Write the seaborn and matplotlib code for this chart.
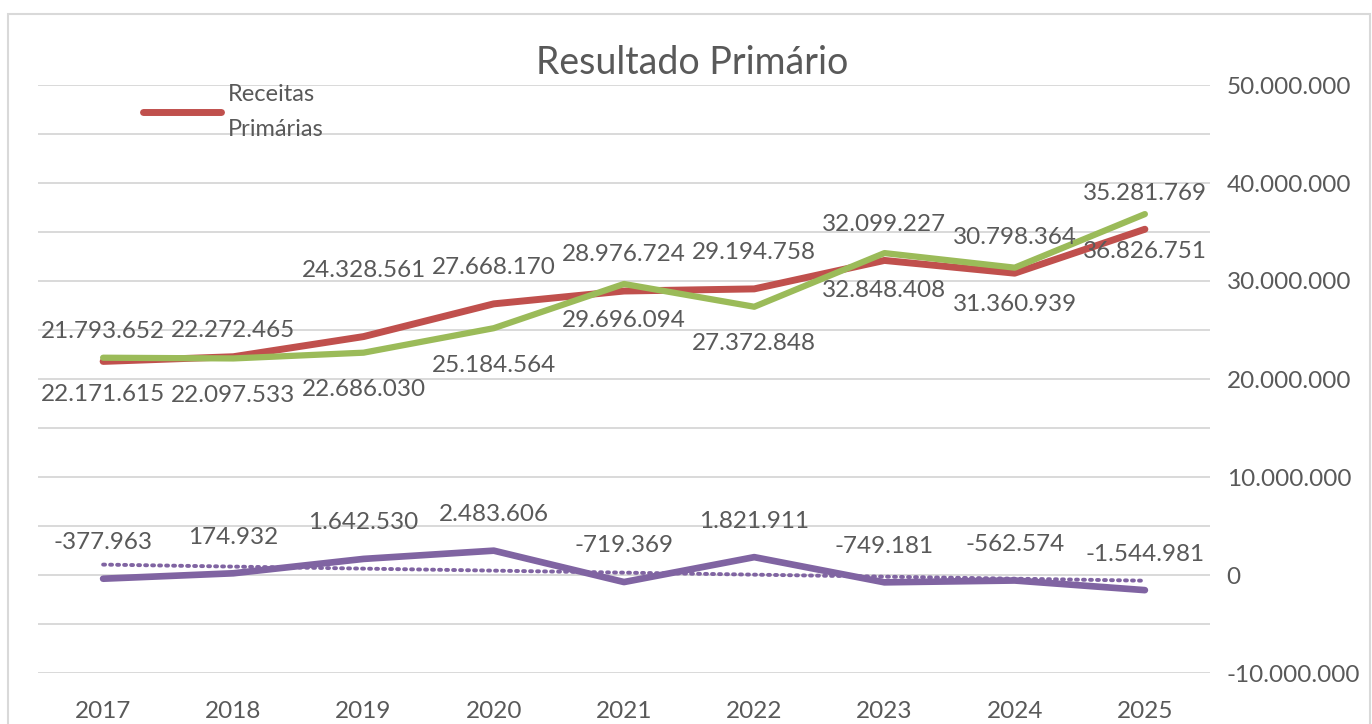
import numpy as np
import pandas as pd
import matplotlib.pyplot as plt
import seaborn as sns
from matplotlib.patches import Rectangle

# Dados
anos = ['2017', '2018', '2019', '2020', '2021', '2022', '2023', '2024', '2025']
receitas = [21793652, 22272465, 24328561, 27668170, 28976724, 29194758, 32099227, 30798364, 35281769]
despesas = [22171615, 22097533, 22686030, 25184564, 29696094, 27372848, 32848408, 31360939, 36826751]
resultado = [-377963, 174932, 1642530, 2483606, -719369, 1821911, -749181, -562574, -1544981]

df = pd.DataFrame({'pos': np.arange(len(anos)), 'ano': anos,
                   'receitas': receitas, 'despesas': despesas, 'resultado': resultado})

# tendência linear do resultado (como no Excel)
coef = np.polyfit(df['pos'], df['resultado'], 1)
df['tendencia'] = np.polyval(coef, df['pos'])

sns.set_theme(style='white')
plt.rcParams['font.family'] = ['Lato', 'DejaVu Sans']

cinza = '#595959'
vermelho = '#C0504D'
verde = '#9BBB59'
roxo = '#8064A2'

fig = plt.figure(figsize=(13.72, 7.24), dpi=100)
ax = fig.add_axes([38 / 1372, 51 / 724, (1210 - 38) / 1372, (673 - 85) / 724])

linha = dict(solid_capstyle='round', solid_joinstyle='round')
sns.lineplot(data=df, x='pos', y='receitas', color=vermelho, lw=5, ax=ax,
             label='Receitas\nPrimárias', **linha)
sns.lineplot(data=df, x='pos', y='despesas', color=verde, lw=4.5, ax=ax, legend=False, **linha)
sns.lineplot(data=df, x='pos', y='resultado', color=roxo, lw=4.8, ax=ax, legend=False, **linha)
sns.lineplot(data=df, x='pos', y='tendencia', color=roxo, lw=2.8, ax=ax, legend=False,
             linestyle=(0, (0.5, 1.3)), dash_capstyle='round')

# rótulos de dados (receitas acima, despesas abaixo, resultado acima)
fmt = lambda v: f'{v:,}'.replace(',', '.')
ajuste_rec = {0: 21.6, 1: 18.7, 2: 47.5}
for i, row in df.iterrows():
    ax.annotate(fmt(row['receitas']), (row['pos'], row['receitas']),
                xytext=(0, ajuste_rec.get(i, 26)), textcoords='offset points',
                ha='center', va='center', fontsize=17.5, color=cinza)
    ax.annotate(fmt(row['despesas']), (row['pos'], row['despesas']),
                xytext=(0, -26.6), textcoords='offset points',
                ha='center', va='center', fontsize=17.5, color=cinza)
    ax.annotate(fmt(row['resultado']), (row['pos'], row['resultado']),
                xytext=(0, 26), textcoords='offset points',
                ha='center', va='center', fontsize=17.5, color=cinza)

# eixos
ax.set_xlim(-0.5, len(anos) - 0.5)
ax.set_ylim(-10_000_000, 50_000_000)
ax.set_xticks(df['pos'])
ax.set_xticklabels(anos)
ticks = np.arange(-10_000_000, 50_000_001, 5_000_000)
ax.set_yticks(ticks)
ax.set_yticklabels([fmt(int(t)) if t % 10_000_000 == 0 else '' for t in ticks])
ax.yaxis.tick_right()
ax.tick_params(axis='y', length=0, pad=12, labelsize=17.5, labelcolor=cinza)
ax.tick_params(axis='x', length=0, pad=20, labelsize=17.5, labelcolor=cinza)
ax.set_xlabel('')
ax.set_ylabel('')
ax.grid(axis='y', color='#D9D9D9', lw=1.4)
ax.grid(axis='x', visible=False)
for s in ax.spines.values():
    s.set_visible(False)

leg = ax.legend(loc='upper left', bbox_to_anchor=(143 / 1372, 1 - 84 / 724),
                bbox_transform=fig.transFigure, frameon=False, fontsize=17,
                handlelength=3.3, handletextpad=0.3, borderpad=0, borderaxespad=0)
for t in leg.get_texts():
    t.set_color(cinza)
    t.set_linespacing(1.8)

fig.text(692 / 1372, 1 - 63 / 724, 'Resultado Primário', ha='center', va='center',
         fontsize=27, color=cinza)

fig.patches.append(Rectangle((8 / 1372, -0.1), (1370 - 8) / 1372, 0.1 + (724 - 14) / 724,
                             transform=fig.transFigure, fill=False,
                             edgecolor='#D9D9D9', lw=1.5))

plt.savefig('out.png', dpi=100)
